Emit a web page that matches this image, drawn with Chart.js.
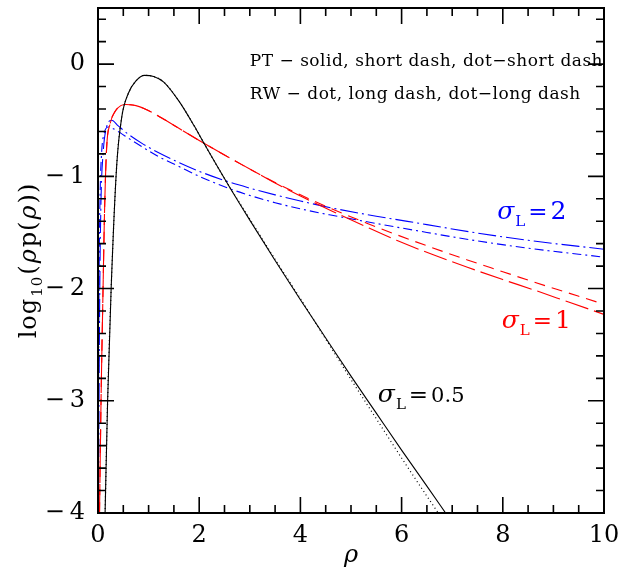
<!DOCTYPE html>
<html>
<head>
<meta charset="utf-8">
<script src="https://cdn.jsdelivr.net/npm/chart.js@4/dist/chart.umd.min.js"></script>
<style>
    html, body { margin: 0; padding: 0; background: #fff; }
    #wrap { width: 624px; height: 572px; }
</style>
</head>
<body>
<div id="wrap"><canvas id="chart" width="624" height="572"></canvas></div>
<script>
// sigma_L = 0.5 (black): PT solid, RW dotted
const halfPtX = [0.14, 0.19, 0.26, 0.37, 0.47, 0.6, 0.75, 0.92, 1.1, 1.3, 1.6, 1.9, 2.1, 2.54, 3.0, 3.5, 4.0, 4.5, 5.0, 5.5, 6.0, 6.5, 6.9];
const halfPtY = [-4.0, -3.0, -2.0, -0.9, -0.47, -0.26, -0.15, -0.1, -0.11, -0.16, -0.33, -0.55, -0.71, -1.05, -1.39, -1.75, -2.1, -2.44, -2.78, -3.11, -3.44, -3.76, -4.02];
const halfRwX = [0.14, 0.19, 0.26, 0.37, 0.47, 0.6, 0.75, 0.92, 1.1, 1.3, 1.6, 1.9, 2.1, 2.54, 3.0, 3.5, 4.0, 4.5, 5.0, 5.5, 6.0, 6.5, 6.74];
const halfRwY = [-4.0, -3.0, -2.0, -0.9, -0.47, -0.26, -0.15, -0.1, -0.11, -0.16, -0.33, -0.55, -0.71, -1.05, -1.38, -1.74, -2.09, -2.45, -2.81, -3.16, -3.51, -3.85, -4.01];

// sigma_L = 1 (red): PT short dash, RW long dash
const onePtX = [0.03, 0.06, 0.1, 0.13, 0.17, 0.24, 0.34, 0.45, 0.55, 0.75, 0.93, 1.26, 1.59, 2.0, 2.5, 3.0, 3.5, 4.0, 4.65, 5.3, 5.9, 6.6, 7.3, 8.0, 8.6, 9.3, 10.0];
const onePtY = [-4.0, -3.0, -2.0, -1.3, -0.75, -0.53, -0.42, -0.37, -0.36, -0.37, -0.4, -0.48, -0.57, -0.68, -0.81, -0.935, -1.055, -1.165, -1.295, -1.415, -1.52, -1.635, -1.745, -1.85, -1.94, -2.04, -2.14];
const oneRwX = [0.03, 0.06, 0.1, 0.13, 0.17, 0.24, 0.34, 0.45, 0.55, 0.75, 0.93, 1.26, 1.59, 2.0, 2.5, 3.0, 3.5, 4.0, 4.65, 5.3, 5.9, 6.6, 7.3, 8.0, 8.6, 9.3, 10.0];
const oneRwY = [-4.0, -3.0, -2.0, -1.3, -0.75, -0.53, -0.42, -0.37, -0.36, -0.37, -0.4, -0.48, -0.57, -0.68, -0.81, -0.935, -1.06, -1.175, -1.315, -1.45, -1.57, -1.695, -1.81, -1.92, -2.01, -2.12, -2.23];

// sigma_L = 2 (blue): PT dot-short dash, RW dot-long dash
const twoPtX = [0.005, 0.01, 0.02, 0.04, 0.07, 0.12, 0.2, 0.3, 0.45, 0.6, 0.9, 1.2, 1.59, 2.0, 2.6, 3.0, 3.5, 4.0, 4.6, 5.5, 6.5, 7.35, 8.5, 10.0];
const twoPtY = [-4.0, -3.0, -2.0, -1.2, -0.8, -0.62, -0.56, -0.575, -0.615, -0.66, -0.745, -0.825, -0.91, -1.0, -1.11, -1.17, -1.235, -1.29, -1.345, -1.42, -1.5, -1.565, -1.64, -1.72];
const twoRwX = [0.01, 0.02, 0.035, 0.06, 0.1, 0.17, 0.27, 0.4, 0.6, 0.9, 1.2, 1.59, 2.0, 2.55, 3.0, 3.5, 4.0, 4.6, 5.5, 6.5, 7.35, 8.5, 10.0];
const twoRwY = [-4.0, -3.0, -2.0, -1.2, -0.8, -0.56, -0.5, -0.55, -0.625, -0.715, -0.79, -0.875, -0.955, -1.045, -1.105, -1.165, -1.22, -1.28, -1.355, -1.43, -1.495, -1.57, -1.65];

// axis ticks
const xTickLabels = [0, 2, 4, 6, 8, 10];
const yTickLabels = [-4, -3, -2, -1, 0];

const SERIF = "'DejaVu Serif', 'Liberation Serif', serif";

function pts(xs, ys) {
    return xs.map((x, i) => ({ x: x, y: ys[i] }));
}

function curve(xs, ys, color, dash, width) {
    return {
        data: pts(xs, ys),
        borderColor: color,
        borderWidth: width || 1.1,
        borderDash: dash,
        showLine: true,
        pointRadius: 0,
        fill: false,
        cubicInterpolationMode: 'monotone'
    };
}

// draws a run of text pieces with their own fonts and baseline shifts
function drawPieces(ctx, pieces, x, y) {
    let cx = x;
    pieces.forEach(p => {
        ctx.font = p.font;
        ctx.fillText(p.t, cx, y + (p.dy || 0));
        cx += ctx.measureText(p.t).width + (p.gap || 0);
    });
}

function piecesWidth(ctx, pieces) {
    let w = 0;
    pieces.forEach(p => {
        ctx.font = p.font;
        w += ctx.measureText(p.t).width + (p.gap || 0);
    });
    return w;
}

// frame with inward ticks on all four sides
const framePlugin = {
    id: 'frame',
    afterDatasetsDraw(chart) {
        const { ctx, chartArea: a, scales: { x, y } } = chart;
        ctx.save();
        ctx.strokeStyle = '#000';
        ctx.lineWidth = 1.6;
        ctx.beginPath();
        for (let i = 0; i <= 20; i++) {
            const v = i * 0.5;
            const px = x.getPixelForValue(v);
            const len = (i % 4 === 0) ? 16 : 8;
            ctx.moveTo(px, a.bottom); ctx.lineTo(px, a.bottom - len);
            ctx.moveTo(px, a.top); ctx.lineTo(px, a.top + len);
        }
        for (let i = 0; i <= 22; i++) {
            const v = -4 + i * 0.2;
            const py = y.getPixelForValue(v);
            const len = (i % 5 === 0) ? 16 : 8;
            ctx.moveTo(a.left, py); ctx.lineTo(a.left + len, py);
            ctx.moveTo(a.right, py); ctx.lineTo(a.right - len, py);
        }
        ctx.stroke();
        ctx.lineWidth = 2;
        ctx.strokeRect(a.left, a.top, a.right - a.left, a.bottom - a.top);
        ctx.restore();
    }
};

// legend note, curve labels and the y axis title
const textPlugin = {
    id: 'texts',
    afterDraw(chart) {
        const { ctx, chartArea: a, scales: { x, y } } = chart;
        ctx.save();
        ctx.textBaseline = 'alphabetic';
        ctx.textAlign = 'left';
        ctx.fillStyle = '#000';

        ctx.font = '17px ' + SERIF;
        ctx.letterSpacing = '0.5px';
        ctx.fillText('PT \u2212 solid, short dash, dot\u2212short dash', x.getPixelForValue(3.0), y.getPixelForValue(-0.02));
        ctx.fillText('RW \u2212 dot, long dash, dot\u2212long dash', x.getPixelForValue(3.0), y.getPixelForValue(-0.31));
        ctx.letterSpacing = '0px';

        const sigma = (val, size) => [
            { t: '\u03c3', font: 'italic 25px ' + SERIF, gap: 1 },
            { t: 'L', font: '15px ' + SERIF, dy: 7, gap: 3 },
            { t: '=', font: '23px ' + SERIF, gap: 3 },
            { t: val, font: size + 'px ' + SERIF }
        ];
        ctx.fillStyle = '#0000ff';
        drawPieces(ctx, sigma('2', 25), x.getPixelForValue(7.89), y.getPixelForValue(-1.38));
        ctx.fillStyle = '#ff0000';
        drawPieces(ctx, sigma('1', 25), x.getPixelForValue(7.98), y.getPixelForValue(-2.35));
        ctx.fillStyle = '#000';
        drawPieces(ctx, sigma('0.5', 21), x.getPixelForValue(5.53), y.getPixelForValue(-3.01));

        // y title: log10(rho p(rho))
        const title = [
            { t: 'log', font: '24px ' + SERIF, gap: 1 },
            { t: '10', font: '15px ' + SERIF, dy: 6, gap: 1 },
            { t: '(', font: '24px ' + SERIF, gap: 1 },
            { t: '\u03c1', font: 'italic 24px ' + SERIF, gap: 1 },
            { t: 'p(', font: '24px ' + SERIF, gap: 1 },
            { t: '\u03c1', font: 'italic 24px ' + SERIF, gap: 1 },
            { t: '))', font: '24px ' + SERIF }
        ];
        ctx.letterSpacing = '1px';
        const w = piecesWidth(ctx, title);
        ctx.translate(36, (a.top + a.bottom) / 2);
        ctx.rotate(-Math.PI / 2);
        drawPieces(ctx, title, -w / 2, 0);
        ctx.restore();
    }
};

new Chart(document.getElementById('chart'), {
    type: 'scatter',
    data: {
        datasets: [
            curve(halfRwX, halfRwY, '#000000', [1, 3], 1.2),
            curve(halfPtX, halfPtY, '#000000', [], 1.1),
            curve(oneRwX, oneRwY, '#ff0000', [24, 6]),
            curve(onePtX, onePtY, '#ff0000', [11, 7]),
            curve(twoRwX, twoRwY, '#0000ff', [18, 4, 2, 4]),
            curve(twoPtX, twoPtY, '#0000ff', [9, 4, 2, 4])
        ]
    },
    options: {
        responsive: false,
        devicePixelRatio: 1,
        animation: false,
        layout: { padding: { top: 8, right: 20, left: 0, bottom: 0 } },
        plugins: {
            legend: { display: false },
            tooltip: { enabled: false }
        },
        scales: {
            x: {
                type: 'linear',
                min: 0,
                max: 10,
                grid: { display: false, drawTicks: false },
                border: { display: false },
                afterBuildTicks: (scale) => {
                    scale.ticks = xTickLabels.map(v => ({ value: v }));
                },
                afterFit: (scale) => {
                    scale.height = 59;
                    scale.paddingLeft = 0;
                    scale.paddingRight = 0;
                },
                ticks: {
                    padding: 8,
                    color: '#000',
                    font: { family: SERIF, size: 24 },
                    maxRotation: 0,
                    callback: (v) => String(v)
                },
                title: {
                    display: true,
                    text: '\u03c1',
                    color: '#000',
                    font: { family: SERIF, size: 24, style: 'italic' },
                    padding: { top: 0, bottom: 2 }
                }
            },
            y: {
                type: 'linear',
                min: -4,
                max: 0.5,
                grid: { display: false, drawTicks: false },
                border: { display: false },
                afterBuildTicks: (scale) => {
                    scale.ticks = yTickLabels.map(v => ({ value: v }));
                },
                afterFit: (scale) => {
                    scale.width = 98;
                    scale.paddingTop = 0;
                    scale.paddingBottom = 0;
                },
                ticks: {
                    padding: 13,
                    color: '#000',
                    font: { family: SERIF, size: 24 },
                    callback: (v) => v === 0 ? '0' : '\u2212\u2009' + Math.abs(v)
                }
            }
        }
    },
    plugins: [framePlugin, textPlugin]
});
</script>
</body>
</html>
